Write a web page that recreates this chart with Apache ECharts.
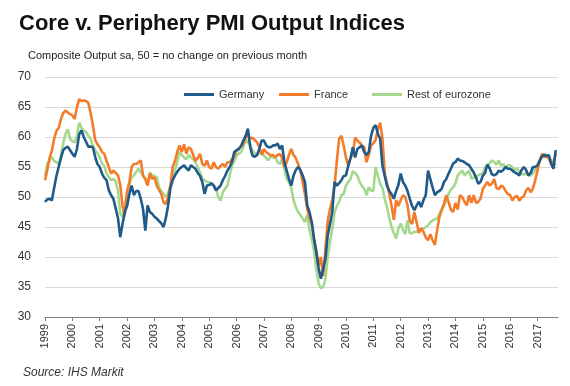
<!DOCTYPE html>
<html>
<head>
<meta charset="utf-8">
<script src="https://cdn.jsdelivr.net/npm/echarts@6/dist/echarts.min.js"></script>
<style>
html,body{margin:0;padding:0;background:#fff;}
#chart{width:570px;height:386px;}
</style>
</head>
<body>
<div id="chart"></div>
<script>
// Monthly data, Jan 1999 - Sep 2017
var germany = [
  49.2, 49.6, 49.7, 49.4, 51.5, 53.5, 55.0, 56.5, 57.8, 58.2, 58.4, 57.8,
  57.2, 56.7, 58.0, 60.5, 61.1, 60.0, 59.2, 58.4, 58.4, 58.3, 56.7, 55.5,
  55.0, 53.9, 53.2, 52.8, 51.1, 50.3, 49.7, 48.1, 46.5, 43.3, 45.5, 47.5,
  48.5, 50.5, 51.9, 50.3, 51.0, 51.0, 49.7, 48.0, 44.4, 48.6, 47.5, 47.2,
  46.7, 46.4, 46.0, 45.6, 45.0, 46.5, 48.6, 51.5, 52.8, 53.6, 54.2, 54.7,
  55.0, 55.3, 54.8, 54.4, 55.3, 55.0, 54.7, 54.0, 53.5, 52.5, 50.5, 51.9,
  52.0, 52.3, 51.9, 51.1, 51.5, 51.9, 52.8, 53.5, 54.4, 55.0, 55.8, 57.5,
  57.8, 58.0, 58.5, 59.4, 60.2, 61.4, 58.3, 56.9, 56.7, 57.0, 58.0, 59.4,
  59.4, 58.6, 58.3, 58.3, 58.6, 58.6, 58.9, 58.0, 58.6, 55.8, 54.4, 53.0,
  51.9, 53.6, 54.5, 55.0, 54.5, 53.6, 52.5, 48.6, 47.5, 45.8, 43.0, 40.8,
  38.1, 36.4, 38.0, 39.7, 43.6, 45.5, 47.5, 52.5, 51.9, 52.3, 52.8, 53.5,
  53.6, 55.2, 56.5, 58.3, 56.6, 58.0, 58.3, 58.6, 57.5, 57.0, 57.5, 60.2,
  61.5, 62.0, 60.5, 59.7, 55.2, 53.5, 51.9, 51.0, 50.5, 49.7, 51.0, 52.0,
  53.9, 52.5, 51.9, 51.0, 49.7, 48.5, 47.8, 48.6, 49.2, 48.3, 49.5, 50.3,
  54.4, 53.0, 51.6, 50.3, 50.8, 51.0, 51.4, 52.5, 53.0, 53.9, 54.7, 55.6,
  55.8, 56.4, 56.1, 56.0, 55.8, 55.5, 55.3, 54.7, 54.1, 53.3, 52.2, 52.5,
  53.5, 54.0, 55.4, 54.8, 53.8, 53.6, 53.8, 54.4, 54.2, 54.5, 55.0, 54.7,
  54.7, 54.4, 54.1, 53.9, 53.6, 54.5, 55.0, 54.5, 53.6, 54.0, 55.0, 55.0,
  55.3, 56.0, 56.8, 57.0, 56.8, 57.0, 55.5, 54.7, 57.8
];
var france = [
  52.8, 54.5, 56.5, 57.7, 59.7, 61.0, 61.5, 63.0, 64.0, 64.4, 64.1, 63.8,
  63.6, 63.0, 64.9, 66.3, 66.0, 66.1, 66.0, 65.7, 64.0, 62.0, 59.5, 58.8,
  58.3, 57.5, 57.2, 56.0, 55.0, 53.9, 54.4, 54.0, 53.6, 52.0, 48.5, 47.0,
  51.0, 52.5, 55.0, 55.5, 55.5, 55.8, 56.1, 53.6, 53.0, 51.9, 53.9, 53.0,
  53.3, 51.9, 51.2, 50.5, 49.1, 48.8, 50.0, 51.9, 55.0, 56.0, 57.5, 58.6,
  57.5, 58.8, 57.2, 58.3, 58.0, 57.0, 56.0, 56.5, 57.2, 55.5, 55.2, 56.1,
  55.0, 54.7, 55.8, 55.0, 54.7, 55.2, 55.5, 55.0, 55.8, 55.8, 56.3, 56.8,
  57.7, 58.0, 58.5, 58.8, 59.9, 60.5, 59.7, 59.9, 59.5, 59.1, 58.3, 57.0,
  58.0, 57.5, 57.2, 56.9, 57.0, 56.6, 57.0, 57.2, 56.5, 55.0, 55.8, 57.0,
  58.0, 57.0, 56.5, 55.5, 54.4, 52.5, 50.5, 48.0, 46.5, 45.5, 43.0, 41.0,
  38.5, 40.0, 36.8, 41.4, 46.0, 48.0, 49.5, 51.9, 56.0, 59.7, 60.2, 58.6,
  56.6, 55.2, 56.5, 57.2, 59.9, 59.4, 59.1, 58.6, 58.3, 55.8, 57.0, 58.6,
  58.9, 59.5, 61.3, 62.4, 59.8, 54.0, 52.3, 50.5, 48.5, 46.2, 49.5, 48.5,
  49.5, 50.3, 50.0, 48.6, 46.0, 45.5, 47.5, 45.8, 44.0, 44.8, 44.2, 43.3,
  42.8, 43.8, 42.8, 42.0, 44.5, 46.7, 47.8, 48.9, 50.3, 49.2, 47.9, 47.5,
  49.0, 47.9, 50.3, 50.0, 49.2, 48.6, 50.3, 49.0, 50.3, 49.0, 49.2, 49.7,
  51.3, 51.9, 52.5, 51.9, 52.2, 53.0, 51.5, 51.3, 51.9, 51.7, 51.0, 50.5,
  50.3, 49.4, 50.0, 50.2, 49.4, 49.9, 50.1, 51.1, 51.5, 50.8, 51.4, 52.8,
  54.4, 56.1, 57.2, 56.6, 56.9, 56.4, 55.6, 55.6, 57.2
];
var restOfEurozone = [
  53.6, 55.5, 56.1, 56.7, 56.0, 55.8, 55.5, 57.0, 59.0, 60.5, 61.3, 59.7,
  59.3, 59.1, 60.2, 62.4, 61.5, 61.1, 60.8, 60.2, 59.7, 58.6, 57.8, 57.3,
  56.6, 55.6, 55.2, 53.9, 53.3, 52.8, 53.0, 52.6, 51.0, 47.2, 46.7, 48.5,
  50.8, 52.0, 53.3, 53.6, 54.2, 54.7, 54.1, 53.5, 53.0, 52.3, 54.1, 53.6,
  53.5, 53.3, 51.6, 51.0, 50.5, 50.0, 50.6, 51.9, 53.6, 54.5, 55.8, 57.5,
  57.0, 56.6, 56.3, 57.0, 56.6, 56.3, 55.8, 55.0, 54.1, 53.0, 52.8, 52.5,
  52.5, 52.0, 51.9, 51.4, 50.0, 49.4, 50.8, 51.4, 51.9, 53.6, 55.2, 56.0,
  56.9, 57.2, 57.5, 58.3, 59.7, 59.0, 58.8, 57.7, 57.3, 56.9, 57.7, 57.5,
  56.9, 56.5, 56.1, 56.9, 56.6, 56.6, 55.8, 55.5, 56.3, 54.7, 53.0, 52.5,
  51.5, 49.5, 48.3, 47.5, 47.0, 46.4, 45.8, 47.0, 44.5, 43.0, 41.0, 38.0,
  35.6, 34.8, 35.0, 36.4, 40.0, 42.5, 44.7, 47.5, 48.5, 49.2, 50.3, 50.5,
  51.9, 52.5, 53.0, 54.3, 54.0, 53.6, 52.5, 51.8, 51.4, 50.3, 51.6, 51.1,
  51.0, 55.0, 53.5, 52.2, 51.5, 49.7, 48.3, 46.5, 45.0, 44.0, 43.1, 44.7,
  45.6, 44.5, 43.8, 46.1, 43.9, 44.0, 44.2, 44.2, 44.5, 44.7, 44.7, 45.0,
  45.3, 45.8, 46.1, 46.3, 46.4, 47.2, 48.0, 48.5, 49.5, 50.5, 51.3, 51.6,
  52.2, 53.6, 54.0, 54.4, 53.6, 54.0, 54.4, 53.1, 53.2, 53.3, 53.6, 53.8,
  53.9, 55.0, 55.3, 55.6, 56.1, 55.8, 55.4, 56.1, 55.2, 55.5, 54.8, 55.3,
  55.3, 55.0, 54.5, 54.8, 54.2, 53.9, 53.7, 54.0, 53.6, 53.6, 53.9, 54.5,
  55.3, 56.3, 57.0, 57.2, 56.9, 56.5, 56.2, 55.8, 55.2
];
var seriesNames = ['Germany', 'France', 'Rest of eurozone'];
var yTicks = [30, 35, 40, 45, 50, 55, 60, 65, 70];

// Month categories Jan 1999 .. Oct 2017
var categories = [];
for (var y = 1999; y <= 2017; y++) {
  for (var m = 1; m <= 12; m++) {
    if (y === 2017 && m > 10) break;
    categories.push(y + '-' + (m < 10 ? '0' + m : m));
  }
}
function isJan(idx, val) { return categories[idx].slice(5) === '01'; }

var chart = echarts.init(document.getElementById('chart'), null, {renderer: 'canvas'});
var FONT = '"Liberation Sans", Arial, sans-serif';
var colors = {Germany: '#1f5a8a', France: '#f47b2a', 'Rest of eurozone': '#a4d88c'};

function legendFor(name, left) {
  return {
    data: [{name: name, icon: 'rect'}],
    left: left, top: 84,
    itemWidth: 30, itemHeight: 3,
    itemGap: 6,
    textStyle: {fontFamily: FONT, fontSize: 11, color: '#333'}
  };
}

chart.setOption({
  animation: false,
  backgroundColor: '#fff',
  title: [
    {text: 'Core v. Periphery PMI Output Indices', left: 14, top: 8,
     textStyle: {fontFamily: FONT, fontSize: 22, fontWeight: 'bold', color: '#111'}},
    {text: 'Composite Output sa, 50 = no change on previous month', left: 23, top: 45,
     textStyle: {fontFamily: FONT, fontSize: 11, fontWeight: 'normal', color: '#222'}},
    {text: 'Source: IHS Markit', left: 18, top: 362,
     textStyle: {fontFamily: FONT, fontSize: 12, fontWeight: 'normal', fontStyle: 'italic', color: '#333'}}
  ],
  legend: [
    legendFor('Germany', 179),
    legendFor('France', 274),
    legendFor('Rest of eurozone', 367)
  ],
  grid: {left: 45, right: 12, top: 77, bottom: 69},
  xAxis: {
    type: 'category',
    data: categories,
    boundaryGap: false,
    axisLine: {show: true, lineStyle: {color: '#808080', width: 1}},
    axisTick: {show: true, interval: isJan, length: 4, lineStyle: {color: '#808080'}},
    axisLabel: {
      interval: isJan, rotate: 90, margin: 7,
      fontFamily: FONT, fontSize: 11, color: '#333',
      formatter: function (v) { return v.slice(0, 4); }
    },
    splitLine: {show: false}
  },
  yAxis: {
    type: 'value',
    min: yTicks[0], max: yTicks[yTicks.length - 1], interval: 5,
    axisLine: {show: false},
    axisTick: {show: false},
    axisLabel: {fontFamily: FONT, fontSize: 12, color: '#333', margin: 14},
    splitLine: {lineStyle: {color: '#d9d9d9', width: 1}}
  },
  series: [
    {name: 'Rest of eurozone', type: 'line', data: restOfEurozone, symbol: 'none',
     lineStyle: {width: 2.6, color: colors['Rest of eurozone']}, itemStyle: {color: colors['Rest of eurozone']}, z: 2},
    {name: 'France', type: 'line', data: france, symbol: 'none',
     lineStyle: {width: 2.6, color: colors.France}, itemStyle: {color: colors.France}, z: 3},
    {name: 'Germany', type: 'line', data: germany, symbol: 'none',
     lineStyle: {width: 2.6, color: colors.Germany}, itemStyle: {color: colors.Germany}, z: 4}
  ]
});
</script>
</body>
</html>
